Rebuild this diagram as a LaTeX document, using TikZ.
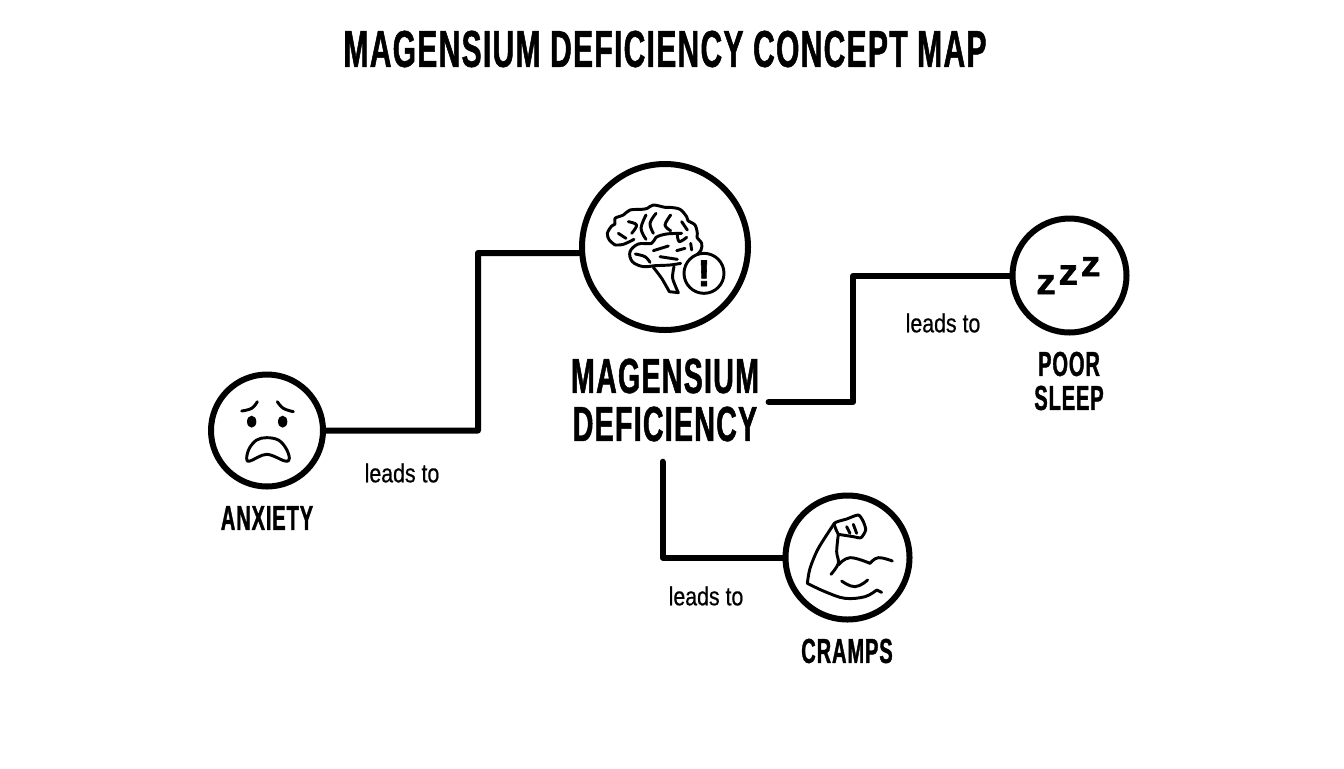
\documentclass[tikz,border=0pt]{standalone}
\usepackage{fontspec}
\setmainfont{Liberation Sans}
\newfontfamily\headfont[FakeStretch=0.58,LetterSpace=2.5,FakeBold=1]{Liberation Sans}
\newfontfamily\labelfont[FakeStretch=0.82,FakeBold=0.6]{Liberation Sans}
\newfontfamily\iconfont[FakeStretch=1.08,FakeBold=1.5]{Liberation Sans}
\tikzset{
	ring/.style={circle,draw,line width=4.5pt,inner sep=0pt,fill=white},
	link/.style={line width=4.5pt,line join=round,line cap=round},
	iconline/.style={line width=2.2pt,line cap=round,line join=round},
	caption/.style={font=\headfont\bfseries\fontsize{26}{25.5}\selectfont,align=center,inner sep=0pt},
	bigcaption/.style={font=\headfont\bfseries\fontsize{37}{36}\selectfont,align=center,inner xsep=7pt,inner ysep=15pt},
	linklabel/.style={font=\labelfont\fontsize{19.5}{21}\selectfont,inner sep=0pt},
	snooze/.style={font=\iconfont\bfseries\fontsize{27}{28}\selectfont,inner sep=0pt},
}
\begin{document}
\begin{tikzpicture}[x=0.75pt,y=-0.75pt]
	\useasboundingbox (0,0) rectangle (1344,768);
	\node[font=\headfont\bfseries\fontsize{38.8}{40}\selectfont,inner sep=0pt] (title) at (665,49) {MAGENSIUM DEFICIENCY CONCEPT MAP};

	\node[ring,minimum size=124.5pt] (main) at (665,247) {};
	\node[ring,minimum size=84pt] (anxiety) at (267,430.5) {};
	\node[ring,minimum size=93pt] (cramps) at (847.5,557.5) {};
	\node[ring,minimum size=85.5pt] (sleep) at (1069.5,275.5) {};

	\node[bigcaption] (mainlabel) at (665,400) {MAGENSIUM\\DEFICIENCY};
	\node[caption] (anxietylabel) at (267,518) {ANXIETY};
	\node[caption] (crampslabel) at (847,651) {CRAMPS};
	\node[caption] (sleeplabel) at (1069,381) {POOR\\SLEEP};

	\coordinate (bendA) at (478,430.5);
	\coordinate (bendB) at (478,253);
	\coordinate (bendC) at (853,402);
	\coordinate (bendD) at (853,276);
	\coordinate (bendE) at (662.5,557.5);

	\draw[link] (anxiety.east) -- (bendA) -- (bendB) -- (main.184);
	\draw[link] (mainlabel.east |- bendC) -- (bendC) -- (bendD) -- (sleep.west |- bendD);
	\draw[link] (bendE |- mainlabel.south) -- (bendE) -- (cramps.west);

	\node[linklabel] (labelA) at (402,473) {leads to};
	\node[linklabel] (labelB) at (943,323) {leads to};
	\node[linklabel] (labelC) at (706,596) {leads to};

	\begin{scope}[shift={(570,150)},scale=1/3]
		\draw[iconline] plot[smooth,tension=.55] coordinates {(135,285) (118,270) (112,250) (125,228) (135,222) (135,205) (160,195) (180,180) (215,178) (232,175) (250,165) (285,172) (300,172) (330,178) (350,200) (354,212) (375,225) (382,250) (381,262) (395,280) (393,300) (380,315)};
		\draw[iconline] plot[smooth,tension=.6] coordinates {(335,250) (290,252) (258,262) (245,280) (205,282) (180,305) (187,335) (220,350) (255,347) (300,345) (332,340)};
		\draw[iconline] plot[smooth,tension=.5] coordinates {(250,352) (275,385) (298,425)} -- (325,428) -- plot[smooth,tension=.5] coordinates {(325,428) (308,385) (312,350)};
		\foreach \fold in {{(175,215) (200,225) (185,250)},{(228,195) (213,235) (228,268)},{(258,190) (240,220) (250,250)},{(302,195) (285,225) (302,242)},{(335,215) (352,240)},{(322,255) (328,275) (350,262)},{(196,312) (225,320) (240,337)},{(250,302) (295,288)},{(270,320) (322,328)},{(320,302) (345,295)},{(362,280) (365,300)},{(145,250) (168,265)},{(135,285) (160,283) (192,268)}}
			\draw[iconline] plot[smooth,tension=.6] coordinates \fold;
		\node[circle,draw,line width=2.2pt,fill=white,minimum size=30pt,inner sep=0pt,font=\iconfont\bfseries\fontsize{28}{30}\selectfont] (alert) at (402,370) {!};
	\end{scope}

	\begin{scope}[shift={(200,365)},scale=1/3]
		\draw[iconline] plot[smooth,tension=.7] coordinates {(125,138) (155,130) (172,110)};
		\draw[iconline] plot[smooth,tension=.7] coordinates {(232,110) (250,130) (280,140)};
		\fill (155,170) ellipse[x radius=14,y radius=18];
		\fill (248,170) ellipse[x radius=14,y radius=18];
		\draw[iconline] plot[smooth cycle,tension=.6] coordinates {(140,280) (148,250) (170,225) (200,218) (235,225) (258,250) (268,280) (255,288) (200,268) (150,288)};
	\end{scope}

	\begin{scope}[shift={(775,485)},scale=1/3]
		\draw[iconline] plot[smooth,tension=.4] coordinates {(190,148) (178,115) (215,102) (250,90) (265,110) (272,135) (258,158) (235,155) (190,148)};
		\draw[iconline] plot[smooth,tension=.5] coordinates {(178,115) (130,190) (105,250) (97,295)} -- plot[smooth,tension=.6] coordinates {(97,295) (150,320) (210,340) (270,335) (305,315)} -- (320,322);
		\draw[iconline] plot[smooth,tension=.6] coordinates {(190,148) (185,200) (190,235) (168,268)};
		\draw[iconline] plot[smooth,tension=.7] coordinates {(190,240) (225,218) (285,235)};
		\draw[iconline] plot[smooth,tension=.7] coordinates {(285,235) (310,218) (352,228)};
		\draw[iconline] plot[smooth,tension=.8] coordinates {(200,288) (240,305) (278,285)};
		\draw[iconline] (215,125) -- (225,145);
		\draw[iconline] (235,118) -- (245,145);
	\end{scope}

	\begin{scope}[shift={(1000,210)},scale=1/3]
		\node[snooze] (zzA) at (138,224) {z};
		\node[snooze] (zzB) at (205,195) {z};
		\node[snooze] (zzC) at (272,170) {z};
	\end{scope}
\end{tikzpicture}
\end{document}
